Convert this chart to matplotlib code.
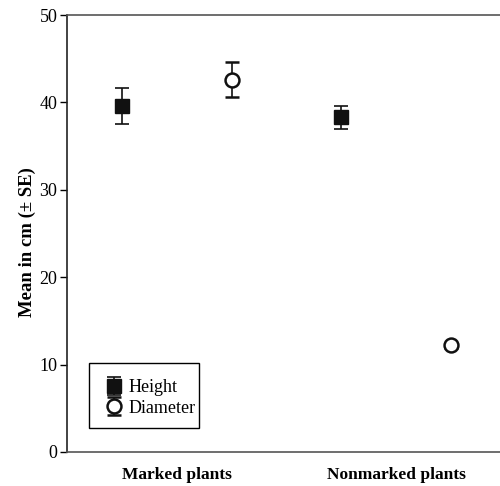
import numpy as np
import matplotlib
matplotlib.use("Agg")
import matplotlib.pyplot as plt
from matplotlib.patches import Rectangle

# groups on the x axis
groups = ["Marked plants", "Nonmarked plants"]
# means and standard errors (cm)
height_mean = [39.6, 38.3]
height_se = [2.1, 1.3]
diam_mean = [42.6, 12.2]
diam_se = [2.0, 0.3]

plt.rcParams['font.family'] = ['Liberation Serif', 'DejaVu Serif']

fig = plt.figure(figsize=(5.0, 4.86), dpi=100)
ax = fig.add_axes([0.134, 0.07, 0.866, 0.899])

x = np.arange(len(groups))
off = 0.25

ax.errorbar(x - off, height_mean, yerr=height_se, fmt='s', color='#111111',
            ms=10, mfc='#111111', mec='#111111', ecolor='#111111',
            elinewidth=1.2, capsize=4.7, capthick=1.2, label='Height')
ax.errorbar(x + off, diam_mean, yerr=diam_se, fmt='o', color='#111111',
            ms=10, mfc='white', mec='#111111', mew=1.8, ecolor='#111111',
            elinewidth=1.2, capsize=4.7, capthick=1.2, label='Diameter')

ax.set_xlim(-0.502, 1.475)
ax.set_ylim(0, 50)
ax.set_yticks([0, 10, 20, 30, 40, 50])
ax.set_xticks(x)
ax.set_xticklabels(groups, fontweight='bold', fontsize=12.5)
ax.tick_params(axis='x', length=0, pad=11)
ax.tick_params(axis='y', direction='out', length=5, width=1, labelsize=13, pad=2)
ax.set_ylabel("Mean in cm (\u00b1 SE)", fontweight='bold', fontsize=13.5, labelpad=2)
ax.yaxis.label.set_y(0.48)

ax.spines['right'].set_visible(False)
for s in ['left', 'bottom', 'top']:
    ax.spines[s].set_linewidth(1.2)
ax.spines['left'].set_color('#222222')
ax.spines['bottom'].set_color('#555555')
ax.spines['top'].set_color('#555555')

# legend box drawn separately (padding in the original is uneven)
ax.add_patch(Rectangle((0.0508, 0.0549), 0.254, 0.149, transform=ax.transAxes,
                       fill=False, edgecolor='black', lw=1.0, zorder=5))
leg = ax.legend(loc='center left', bbox_to_anchor=(0.0878, 0.1236), frameon=False,
                fontsize=13, handlelength=1.0, handletextpad=0.3,
                borderpad=0, labelspacing=0.2, borderaxespad=0)

fig.savefig("out.png", dpi=100)
